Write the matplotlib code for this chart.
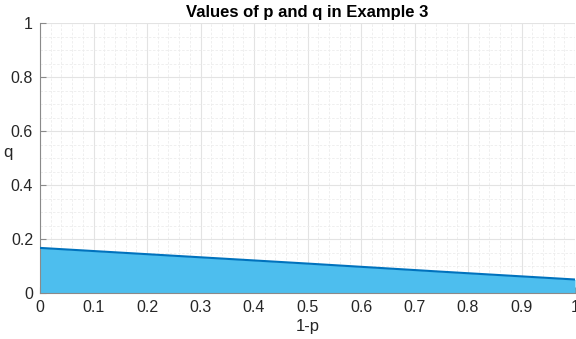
import numpy as np
import matplotlib
matplotlib.use("Agg")
import matplotlib.pyplot as plt
from matplotlib.ticker import MultipleLocator

plt.rcParams['font.family'] = ['Liberation Sans', 'DejaVu Sans']

# upper bound of q as a function of 1-p
one_minus_p = [0.0, 0.25, 0.5, 0.75, 1.0]
q_max = [0.167, 0.138, 0.109, 0.079, 0.050]

fig = plt.figure(figsize=(5.76, 3.39), dpi=100)
ax = fig.add_axes([40 / 576, 46 / 339, 535 / 576, 270 / 339])

ax.fill_between(one_minus_p, 0, q_max, color='#4DBEEE', linewidth=0, zorder=2)
ax.plot(one_minus_p, q_max, color='#0072BD', linewidth=1.5, zorder=3)

ax.set_xlim(0, 1)
ax.set_ylim(0, 1)
ax.xaxis.set_major_locator(MultipleLocator(0.1))
ax.xaxis.set_minor_locator(MultipleLocator(0.02))
ax.yaxis.set_major_locator(MultipleLocator(0.2))
ax.yaxis.set_minor_locator(MultipleLocator(0.05))
ax.xaxis.set_major_formatter(plt.FuncFormatter(lambda v, _: f"{v:g}"))
ax.yaxis.set_major_formatter(plt.FuncFormatter(lambda v, _: f"{v:g}"))

ax.grid(which='major', color='#e3e3e3', linewidth=0.8, zorder=0)
ax.grid(which='minor', color='#ececec', linewidth=0.6, linestyle=(0, (3, 2)), zorder=0)
ax.set_axisbelow(True)

for side in ['top', 'right']:
    ax.spines[side].set_visible(False)
for side in ['left', 'bottom']:
    ax.spines[side].set_color('#8a8a8a')
    ax.spines[side].set_linewidth(0.8)
ax.tick_params(which='major', direction='in', length=4, color='#8a8a8a',
               labelsize=11.5, labelcolor='#262626', pad=5)
ax.tick_params(which='minor', length=0)

ax.set_title('Values of p and q in Example 3', fontsize=12, fontweight='bold', pad=4)
ax.set_xlabel('1-p', fontsize=12, color='#262626', labelpad=3)
ax.set_ylabel('q', fontsize=12, color='#262626', rotation=0, va='center', ha='center')
ax.yaxis.set_label_coords(-0.06, 0.52)

fig.savefig('out.png', dpi=100)
